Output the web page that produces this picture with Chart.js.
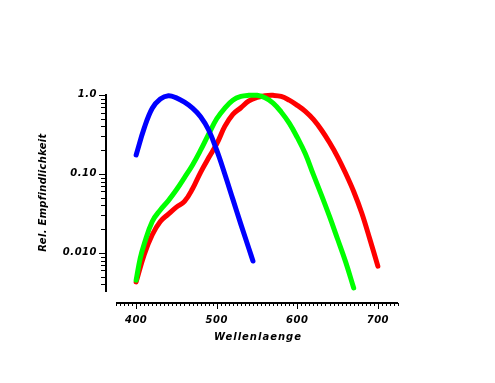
<!DOCTYPE html>
<html>
<head>
<meta charset="utf-8">
<script src="https://cdn.jsdelivr.net/npm/chart.js@4.4.1/dist/chart.umd.min.js"></script>
<style>
  body { margin: 0; background: #fff; }
  canvas { display: block; }
</style>
</head>
<body>
<canvas id="myChart" width="495" height="383"></canvas>
<script>
// data
const blueWl = [400, 410, 420, 430, 440, 450, 460, 470, 480, 490, 500, 510, 520, 530, 540, 545];
const blueVal = [0.174, 0.38, 0.68, 0.89, 0.98, 0.92, 0.81, 0.68, 0.53, 0.36, 0.20, 0.10, 0.048, 0.023, 0.0113, 0.0079];

const greenWl = [400, 405, 410, 420, 430, 440, 450, 460, 470, 480, 490, 500, 510, 520, 530, 540, 550, 560, 570, 580, 590, 600, 610, 620, 630, 640, 650, 660, 670];
const greenVal = [0.0045, 0.0085, 0.013, 0.025, 0.035, 0.046, 0.063, 0.090, 0.13, 0.20, 0.32, 0.50, 0.68, 0.86, 0.96, 0.99, 0.99, 0.92, 0.79, 0.61, 0.44, 0.29, 0.18, 0.098, 0.054, 0.029, 0.015, 0.0077, 0.0036];

const redWl = [400, 410, 420, 430, 440, 450, 460, 470, 480, 490, 500, 510, 520, 530, 540, 550, 560, 570, 580, 590, 600, 610, 620, 630, 640, 650, 660, 670, 680, 690, 700];
const redVal = [0.0043, 0.0095, 0.017, 0.025, 0.031, 0.038, 0.045, 0.065, 0.105, 0.16, 0.24, 0.40, 0.57, 0.69, 0.84, 0.93, 0.98, 0.99, 0.96, 0.86, 0.74, 0.62, 0.49, 0.36, 0.25, 0.165, 0.102, 0.060, 0.032, 0.015, 0.0068];

const xTicks = [400, 500, 600, 700];
const yTicks = [0.01, 0.1, 1];
const yTickLabels = ['0.010', '0.10', '1.0'];
const xTitle = 'Wellenlaenge';
const yTitle = 'Rel. Empfindlichkeit';

function pts(wl, val) {
    return wl.map((w, i) => ({ x: w, y: val[i] }));
}

const FONT = 'italic bold 10px "DejaVu Sans"';

// axes drawn by hand so they can sit detached like the original
const axesPlugin = {
    id: 'axes',
    afterDraw(chart) {
        const ctx = chart.ctx;
        const xs = chart.scales.x;
        const ys = chart.scales.y;
        const area = chart.chartArea;
        ctx.save();
        ctx.strokeStyle = '#000';
        ctx.fillStyle = '#000';

        // y axis
        const ax = area.left - 10;
        ctx.lineWidth = 2;
        ctx.beginPath();
        ctx.moveTo(ax, area.top - 1);
        ctx.lineTo(ax, area.bottom);
        ctx.stroke();
        ctx.lineWidth = 1;
        for (let e = -3; e <= 0; e++) {
            for (let m = 1; m <= 9; m++) {
                const v = m * Math.pow(10, e);
                if (v < ys.min || v > ys.max * 1.0001) continue;
                const py = Math.round(ys.getPixelForValue(v)) + 0.5;
                const len = m === 1 ? 7 : 5;
                ctx.beginPath();
                ctx.moveTo(ax, py);
                ctx.lineTo(ax - len, py);
                ctx.stroke();
            }
        }
        ctx.font = FONT;
        ctx.textAlign = 'right';
        ctx.textBaseline = 'middle';
        ctx.letterSpacing = '0.5px';
        yTicks.forEach((v, i) => {
            ctx.fillText(yTickLabels[i], ax - 9, ys.getPixelForValue(v) - 1);
        });

        // x axis
        const ay = area.bottom + 11;
        ctx.lineWidth = 2;
        ctx.beginPath();
        ctx.moveTo(area.left, ay);
        ctx.lineTo(area.right, ay);
        ctx.stroke();
        ctx.lineWidth = 1;
        for (let w = 375; w <= 725; w += 5) {
            const px = Math.round(xs.getPixelForValue(w)) + 0.5;
            const len = (w % 100 === 0) ? 6 : 3;
            ctx.beginPath();
            ctx.moveTo(px, ay);
            ctx.lineTo(px, ay + len);
            ctx.stroke();
        }
        ctx.textAlign = 'center';
        xTicks.forEach(v => {
            ctx.fillText(String(v), xs.getPixelForValue(v), ay + 17);
        });

        // titles
        ctx.letterSpacing = '1px';
        ctx.fillText(xTitle, (area.left + area.right) / 2 + 1, ay + 34);
        ctx.letterSpacing = '0.3px';
        ctx.translate(43, (area.top + area.bottom) / 2 - 1);
        ctx.rotate(-Math.PI / 2);
        ctx.fillText(yTitle, 0, 0);
        ctx.restore();
    }
};

const common = {
    borderWidth: 5,
    pointRadius: 0,
    fill: false,
    tension: 0.4,
    borderCapStyle: 'round',
    borderJoinStyle: 'round',
    clip: false
};

const config = {
    type: 'line',
    data: {
        datasets: [
            Object.assign({ label: 'S', data: pts(blueWl, blueVal), borderColor: '#0000ff', order: 1 }, common),
            Object.assign({ label: 'M', data: pts(greenWl, greenVal), borderColor: '#00ff00', order: 2 }, common),
            Object.assign({ label: 'L', data: pts(redWl, redVal), borderColor: '#ff0000', order: 3 }, common)
        ]
    },
    options: {
        responsive: false,
        animation: false,
        devicePixelRatio: 1,
        layout: { padding: { left: 116, right: 97, top: 95, bottom: 91 } },
        plugins: { legend: { display: false }, tooltip: { enabled: false } },
        scales: {
            x: { type: 'linear', min: 375, max: 725, display: false },
            y: { type: 'logarithmic', min: 0.0032, max: 1.0, display: false }
        }
    },
    plugins: [axesPlugin]
};

const myChart = new Chart(document.getElementById('myChart'), config);
</script>
</body>
</html>
